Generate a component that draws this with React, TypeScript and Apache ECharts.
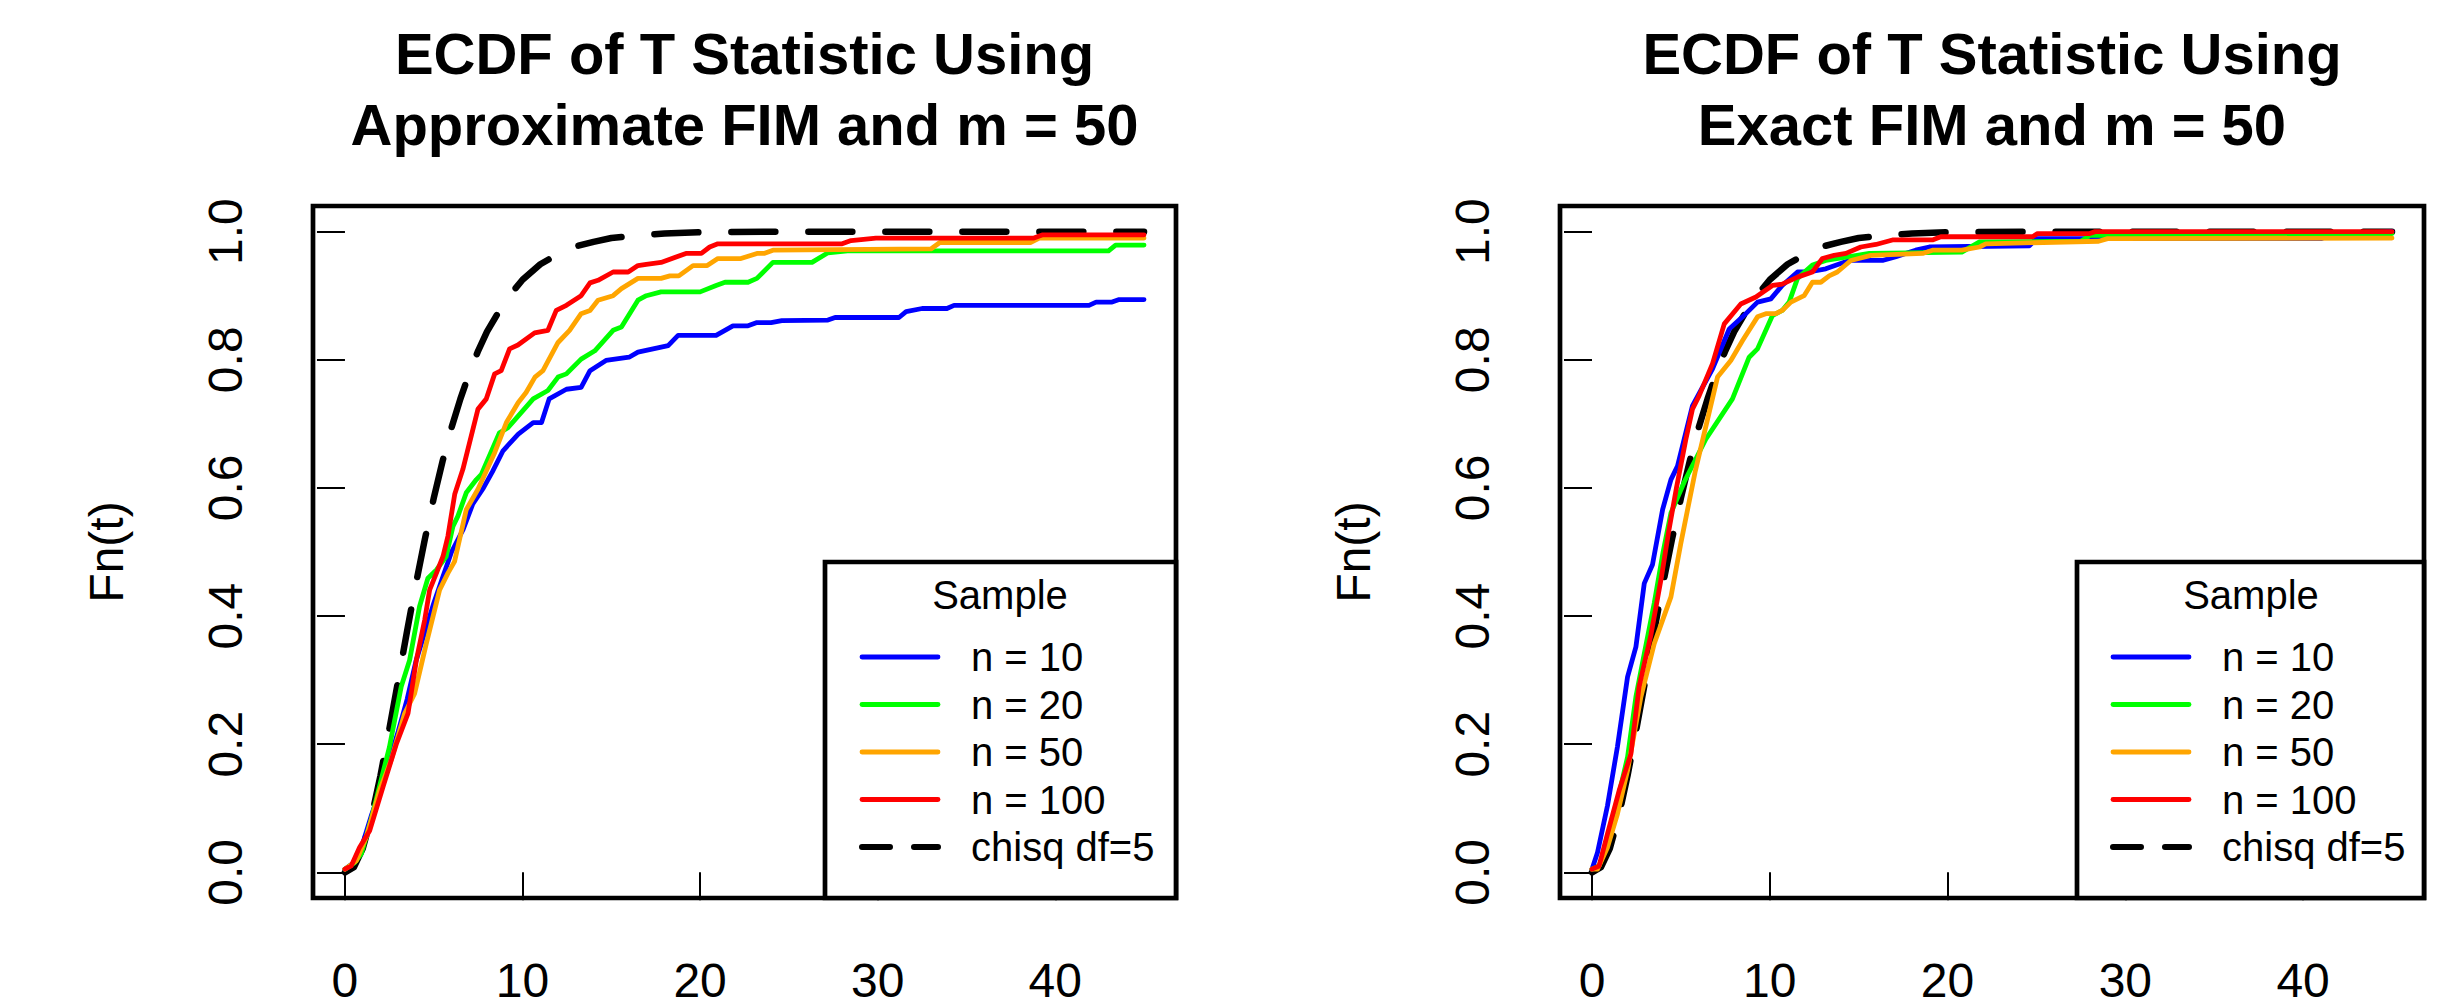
import React, { useEffect, useRef } from 'react';
import * as echarts from 'echarts';

const FONT = '"Liberation Sans", Arial, Helvetica, sans-serif';

const panelTitles = [
  'ECDF of T Statistic Using\nApproximate FIM and m = 50',
  'ECDF of T Statistic Using\nExact FIM and m = 50',
];
const seriesNames = ['n = 10', 'n = 20', 'n = 50', 'n = 100', 'chisq df=5'];
const seriesColors = ['#0000FF', '#00FF00', '#FFA500', '#FF0000', '#000000'];
const xTicks = [0, 10, 20, 30, 40];
const yTicks = [0, 0.2, 0.4, 0.6, 0.8, 1.0];
const yAxisTitle = 'Fn(t)';
const legendTitle = 'Sample';

// chi-square (df = 5) reference CDF
const chisqDf5 = [
  [0, 0], [0.5, 0.008], [1, 0.037], [1.5, 0.087], [2, 0.151], [2.5, 0.224], [3, 0.3],
  [3.5, 0.377], [4, 0.451], [4.5, 0.52], [5, 0.584], [5.5, 0.642], [6, 0.694], [6.5, 0.739],
  [7, 0.779], [7.5, 0.814], [8, 0.844], [9, 0.891], [10, 0.925], [11, 0.949], [12, 0.965],
  [13, 0.977], [14, 0.984], [15, 0.99], [16, 0.993], [18, 0.997], [20, 0.999], [25, 1.0], [45, 1.0],
];

// Left panel: Approximate FIM
const approxN10 = [
  [0, 0.005], [0.5, 0.015], [1.0, 0.045], [1.5, 0.09], [2.0, 0.13], [2.5, 0.175], [3.0, 0.22],
  [3.5, 0.27], [4.0, 0.33], [4.5, 0.375], [5.0, 0.42], [5.5, 0.46], [6.0, 0.5], [6.65, 0.535],
  [7.2, 0.575], [7.8, 0.6], [8.3, 0.625], [8.9, 0.658], [9.76, 0.684], [10.6, 0.702], [11.07, 0.702],
  [11.5, 0.739], [12.47, 0.754], [13.3, 0.757], [13.8, 0.783], [14.7, 0.799], [16.0, 0.804],
  [16.5, 0.812], [17.35, 0.817], [18.2, 0.822], [18.76, 0.838], [20.9, 0.838], [21.85, 0.853],
  [22.7, 0.853], [23.2, 0.858], [24.0, 0.858], [24.6, 0.861], [27.2, 0.862], [27.6, 0.866],
  [31.2, 0.866], [31.6, 0.875], [32.5, 0.88], [33.9, 0.88], [34.3, 0.885], [41.9, 0.885],
  [42.3, 0.89], [43.2, 0.89], [43.6, 0.894], [45, 0.894],
];
const approxN20 = [
  [0, 0.005], [0.54, 0.015], [0.92, 0.029], [1.5, 0.085], [2.0, 0.14], [2.5, 0.195], [3.17, 0.29],
  [3.64, 0.331], [4.2, 0.415], [4.67, 0.459], [5.15, 0.472], [5.7, 0.493], [6.08, 0.54], [6.36, 0.556],
  [6.84, 0.593], [7.4, 0.613], [7.68, 0.621], [8.7, 0.686], [9.18, 0.694], [10.6, 0.739], [11.43, 0.752],
  [12.0, 0.773], [12.47, 0.778], [13.3, 0.801], [14.07, 0.814], [15.1, 0.846], [15.57, 0.851],
  [16.5, 0.893], [16.97, 0.9], [17.8, 0.906], [20.0, 0.906], [20.9, 0.916], [21.4, 0.921],
  [22.7, 0.921], [23.2, 0.927], [24.1, 0.952], [26.3, 0.952], [27.2, 0.967], [28.3, 0.97],
  [43.0, 0.97], [43.4, 0.979], [45, 0.979],
];
const approxN50 = [
  [0, 0.005], [0.64, 0.018], [1.2, 0.055], [1.95, 0.128], [2.6, 0.175], [3.36, 0.248], [3.92, 0.279],
  [4.58, 0.357], [5.33, 0.441], [5.8, 0.467], [6.17, 0.485], [6.83, 0.566], [7.49, 0.598], [8.43, 0.655],
  [9.09, 0.702], [9.75, 0.733], [10.2, 0.749], [10.7, 0.773], [11.15, 0.783], [12.0, 0.827],
  [12.65, 0.846], [13.3, 0.872], [13.8, 0.877], [14.25, 0.893], [15.1, 0.9], [15.57, 0.911],
  [16.5, 0.927], [17.8, 0.927], [18.3, 0.931], [18.8, 0.931], [19.6, 0.947], [20.4, 0.947],
  [21.0, 0.958], [22.3, 0.958], [23.2, 0.966], [23.6, 0.966], [24.1, 0.971], [33.0, 0.973],
  [33.5, 0.983], [38.6, 0.983], [39.1, 0.99], [45, 0.99],
];
const approxN100 = [
  [0, 0.005], [0.35, 0.01], [0.82, 0.039], [1.39, 0.065], [2.14, 0.133], [2.89, 0.2], [3.55, 0.248],
  [4.02, 0.331], [4.49, 0.394], [4.77, 0.441], [5.15, 0.467], [5.52, 0.493], [5.8, 0.525], [6.18, 0.59],
  [6.64, 0.629], [7.49, 0.723], [7.96, 0.739], [8.43, 0.778], [8.8, 0.783], [9.27, 0.817], [9.74, 0.823],
  [10.68, 0.842], [11.43, 0.846], [11.9, 0.877], [12.47, 0.885], [13.3, 0.9], [13.8, 0.92],
  [14.25, 0.924], [15.1, 0.937], [15.95, 0.937], [16.5, 0.947], [16.97, 0.949], [17.8, 0.952],
  [19.2, 0.966], [20.07, 0.966], [20.54, 0.976], [21.0, 0.981], [28.0, 0.981], [28.5, 0.986],
  [29.9, 0.99], [38.8, 0.99], [39.3, 0.995], [45, 0.995],
];

// Right panel: Exact FIM
const exactN10 = [
  [0, 0.005], [0.31, 0.031], [0.87, 0.104], [1.43, 0.196], [2.0, 0.305], [2.47, 0.352], [2.94, 0.451],
  [3.4, 0.48], [3.97, 0.566], [4.44, 0.613], [4.81, 0.634], [5.65, 0.728], [6.78, 0.786], [7.72, 0.848],
  [8.47, 0.867], [9.31, 0.89], [10.06, 0.895], [10.7, 0.916], [11.56, 0.937], [12.2, 0.937],
  [13.15, 0.942], [14.47, 0.955], [16.34, 0.955], [17.1, 0.961], [18.2, 0.971], [18.97, 0.976],
  [24.6, 0.978], [25.0, 0.989], [41.0, 0.989], [41.5, 0.995], [45, 1.0],
];
const exactN20 = [
  [0, 0.005], [0.4, 0.01], [0.9, 0.05], [1.5, 0.12], [2.0, 0.18], [2.47, 0.274], [3.0, 0.35],
  [3.5, 0.42], [4.0, 0.5], [4.44, 0.561], [5.2, 0.61], [6.4, 0.676], [7.9, 0.739], [8.84, 0.804],
  [9.31, 0.817], [10.15, 0.869], [10.7, 0.877], [11.09, 0.89], [11.56, 0.927], [12.4, 0.948],
  [13.15, 0.955], [15.6, 0.966], [20.8, 0.968], [21.8, 0.984], [27.5, 0.985], [28.0, 0.994],
  [40.5, 0.994], [45, 0.997],
];
const exactN50 = [
  [0, 0.005], [0.31, 0.005], [0.87, 0.039], [1.43, 0.091], [2.0, 0.159], [2.75, 0.274], [3.5, 0.357],
  [4.44, 0.43], [5.0, 0.514], [5.8, 0.625], [7.06, 0.773], [7.81, 0.799], [8.47, 0.83], [9.31, 0.867],
  [9.78, 0.872], [10.34, 0.872], [10.7, 0.877], [11.19, 0.89], [11.93, 0.9], [12.4, 0.921],
  [12.87, 0.921], [13.34, 0.931], [13.8, 0.937], [14.56, 0.955], [15.69, 0.963], [18.6, 0.966],
  [19.15, 0.971], [20.8, 0.971], [21.8, 0.976], [22.15, 0.981], [28.5, 0.985], [29.0, 0.989], [45, 0.99],
];
const exactN100 = [
  [0, 0.005], [0.4, 0.01], [0.87, 0.06], [1.53, 0.128], [2.19, 0.185], [2.65, 0.29], [3.31, 0.37],
  [3.9, 0.46], [4.3, 0.53], [4.75, 0.6], [5.28, 0.676], [5.65, 0.723], [6.03, 0.744], [6.78, 0.794],
  [7.44, 0.856], [8.37, 0.887], [9.22, 0.898], [10.15, 0.916], [10.7, 0.918], [11.56, 0.929],
  [12.4, 0.937], [12.96, 0.958], [13.62, 0.963], [14.28, 0.966], [15.12, 0.976], [15.97, 0.98],
  [16.9, 0.987], [19.15, 0.987], [19.62, 0.992], [24.78, 0.992], [25.06, 0.997], [28.0, 0.997],
  [28.3, 1.0], [45, 1.0],
];

const panelData = [
  [approxN10, approxN20, approxN50, approxN100, chisqDf5],
  [exactN10, exactN20, exactN50, exactN100, chisqDf5],
];

// layout (pixels)
const grids = [
  { left: 313, top: 206, width: 863, height: 692 },
  { left: 1560, top: 206, width: 864, height: 692 },
];
const legendBoxes = [
  { x: 825, y: 562, w: 351, h: 336, itemLeft: 859, itemTop: 637, titleX: 1000 },
  { x: 2077, y: 562, w: 347, h: 336, itemLeft: 2110, itemTop: 637, titleX: 2251 },
];

const SOLID_W = 4.8;
const DASH_W = 6.5;

function buildOption() {
  const series: any[] = [];
  // draw chisq first (behind), then n = 10, 20, 50, 100
  const order = [4, 0, 1, 2, 3];
  for (let p = 0; p < 2; p++) {
    for (const i of order) {
      const dashed = i === 4;
      series.push({
        type: 'line',
        name: seriesNames[i],
        xAxisIndex: p,
        yAxisIndex: p,
        data: panelData[p][i],
        symbol: 'none',
        showSymbol: false,
        silent: true,
        itemStyle: { color: seriesColors[i] },
        lineStyle: {
          color: seriesColors[i],
          width: dashed ? DASH_W : SOLID_W,
          type: dashed ? [44, 33] : 'solid',
          cap: 'round',
          join: 'round',
        },
      });
    }
  }

  const xAxis = grids.map((_, p) => ({
    gridIndex: p,
    type: 'value',
    min: -1.8,
    max: 46.8,
    axisLine: { show: false },
    splitLine: { show: false },
    axisTick: { show: true, length: 28, customValues: xTicks, lineStyle: { color: '#000', width: 2 } },
    axisLabel: { customValues: xTicks, fontSize: 48, color: '#000', margin: 58, fontFamily: FONT },
  }));
  const yAxis = grids.map((_, p) => ({
    gridIndex: p,
    type: 'value',
    min: -0.04,
    max: 1.04,
    axisLine: { show: false },
    splitLine: { show: false },
    axisTick: { show: true, length: 28, customValues: yTicks, lineStyle: { color: '#000', width: 2 } },
    axisLabel: {
      customValues: yTicks,
      rotate: 90,
      fontSize: 48,
      color: '#000',
      margin: 64,
      fontFamily: FONT,
      formatter: (v: number) => v.toFixed(1),
    },
    name: yAxisTitle,
    nameLocation: 'middle',
    nameRotate: 90,
    nameGap: 183,
    nameTextStyle: { fontSize: 48, color: '#000', fontFamily: FONT },
  }));

  const title = grids.map((g, p) => ({
    text: panelTitles[p],
    left: g.left + g.width / 2,
    top: 18,
    padding: 0,
    textAlign: 'center',
    textStyle: { fontSize: 58, fontWeight: 'bold', color: '#000', fontFamily: FONT, lineHeight: 70.7 },
  }));

  const legend = legendBoxes.map((b) => ({
    orient: 'vertical',
    left: b.itemLeft,
    top: b.itemTop,
    padding: 0,
    itemGap: 7.5,
    itemWidth: 76,
    itemHeight: 1,
    selectedMode: false,
    itemStyle: { opacity: 0 },
    lineStyle: { width: SOLID_W, cap: 'round' },
    textStyle: { fontSize: 40, lineHeight: 40, color: '#000', fontFamily: FONT, padding: [0, 0, 0, 28] },
    data: seriesNames.map((n, i) =>
      i === 4
        ? { name: n, lineStyle: { width: 6, type: [28, 24], cap: 'round' } }
        : { name: n }
    ),
  }));

  const graphicElements: any[] = [];
  legendBoxes.forEach((b) => {
    graphicElements.push({
      type: 'rect',
      shape: { x: b.x, y: b.y, width: b.w, height: b.h },
      style: { fill: '#fff', stroke: '#000', lineWidth: 4.7 },
      z: 1,
    });
    graphicElements.push({
      type: 'text',
      x: b.titleX,
      y: 595,
      style: {
        text: legendTitle,
        fontSize: 40,
        fontFamily: FONT,
        fill: '#000',
        textAlign: 'center',
        textVerticalAlign: 'middle',
      },
      z: 5,
    });
  });

  return {
    animation: false,
    backgroundColor: '#fff',
    title,
    grid: grids.map((g) => ({
      ...g,
      show: true,
      borderColor: '#000',
      borderWidth: 4.7,
      backgroundColor: 'transparent',
      containLabel: false,
    })),
    xAxis,
    yAxis,
    legend,
    graphic: { elements: graphicElements },
    series,
  };
}

export default function App() {
  const ref = useRef<HTMLDivElement>(null);
  useEffect(() => {
    if (!ref.current) return;
    const chart = echarts.init(ref.current, undefined, { renderer: 'svg' });
    chart.setOption(buildOption() as any);
    return () => chart.dispose();
  }, []);
  return (
    <div
      ref={ref}
      style={{ position: 'fixed', left: 0, top: 0, width: 2463, height: 1007, background: '#fff' }}
    />
  );
}
